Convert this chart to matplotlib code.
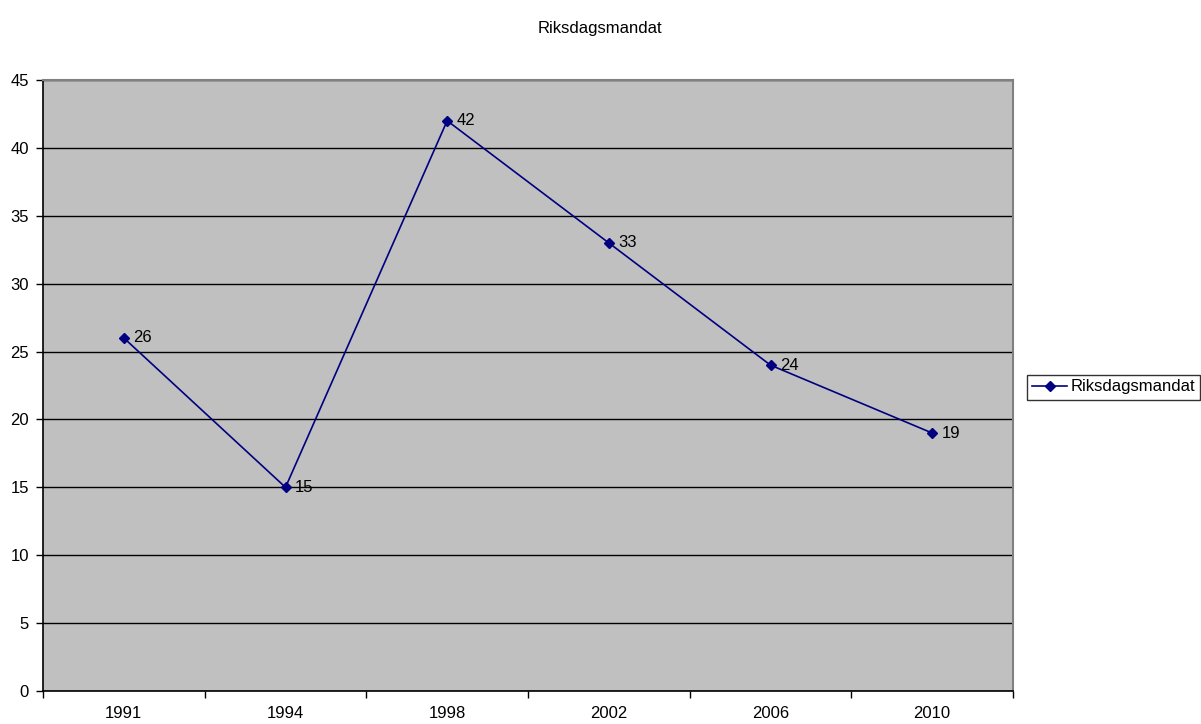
import matplotlib
matplotlib.use("Agg")
import matplotlib.pyplot as plt

# data
years = ["1991", "1994", "1998", "2002", "2006", "2010"]
mandat = [26, 15, 42, 33, 24, 19]

plt.rcParams["font.family"] = ["Liberation Sans", "DejaVu Sans"]

fig = plt.figure(figsize=(12.01, 7.24), dpi=100)
ax = fig.add_axes([43 / 1201, 1 - 691 / 724, (1013 - 43) / 1201, (691 - 80) / 724])
ax.set_facecolor("#C0C0C0")

x = list(range(len(years)))
ax.plot(x, mandat, color="#000080", lw=1.2, marker="D", ms=5,
        label="Riksdagsmandat", zorder=3)
for xi, v in zip(x, mandat):
    ax.annotate(str(v), (xi, v), xytext=(7, 0), textcoords="offset points",
                va="center", ha="left", fontsize=12, color="black")

ax.set_xlim(-0.5, len(years) - 0.5)
ax.set_ylim(0, 45)
ax.set_yticks(range(0, 46, 5))
ax.set_xticks(x)
ax.set_xticklabels(years)
ax.set_xticks([i - 0.5 for i in range(len(years) + 1)], minor=True)
ax.tick_params(axis="x", which="major", length=0, pad=11, labelsize=12)
ax.tick_params(axis="x", which="minor", length=5, width=1)
ax.tick_params(axis="y", length=5, width=1, labelsize=12, pad=5)

ax.grid(axis="y", color="black", lw=1)
ax.set_axisbelow(True)
for s in ["top", "right"]:
    ax.spines[s].set_color("#808080")
    ax.spines[s].set_linewidth(1.5)
for s in ["left", "bottom"]:
    ax.spines[s].set_color("black")
    ax.spines[s].set_linewidth(1.2)

fig.text(600 / 1201, 1 - 28 / 724, "Riksdagsmandat", ha="center", va="center", fontsize=12)

leg = ax.legend(loc="center left", bbox_to_anchor=(1.0, 0.5), fontsize=12,
                frameon=True, fancybox=False, edgecolor="black", borderpad=0.3,
                handlelength=2.1, handletextpad=0.2, borderaxespad=0.0)
leg.set_bbox_to_anchor((1027 / 1201, 1 - 387 / 724), transform=fig.transFigure)
leg.get_frame().set_linewidth(1)

fig.savefig("out.png", dpi=100)
